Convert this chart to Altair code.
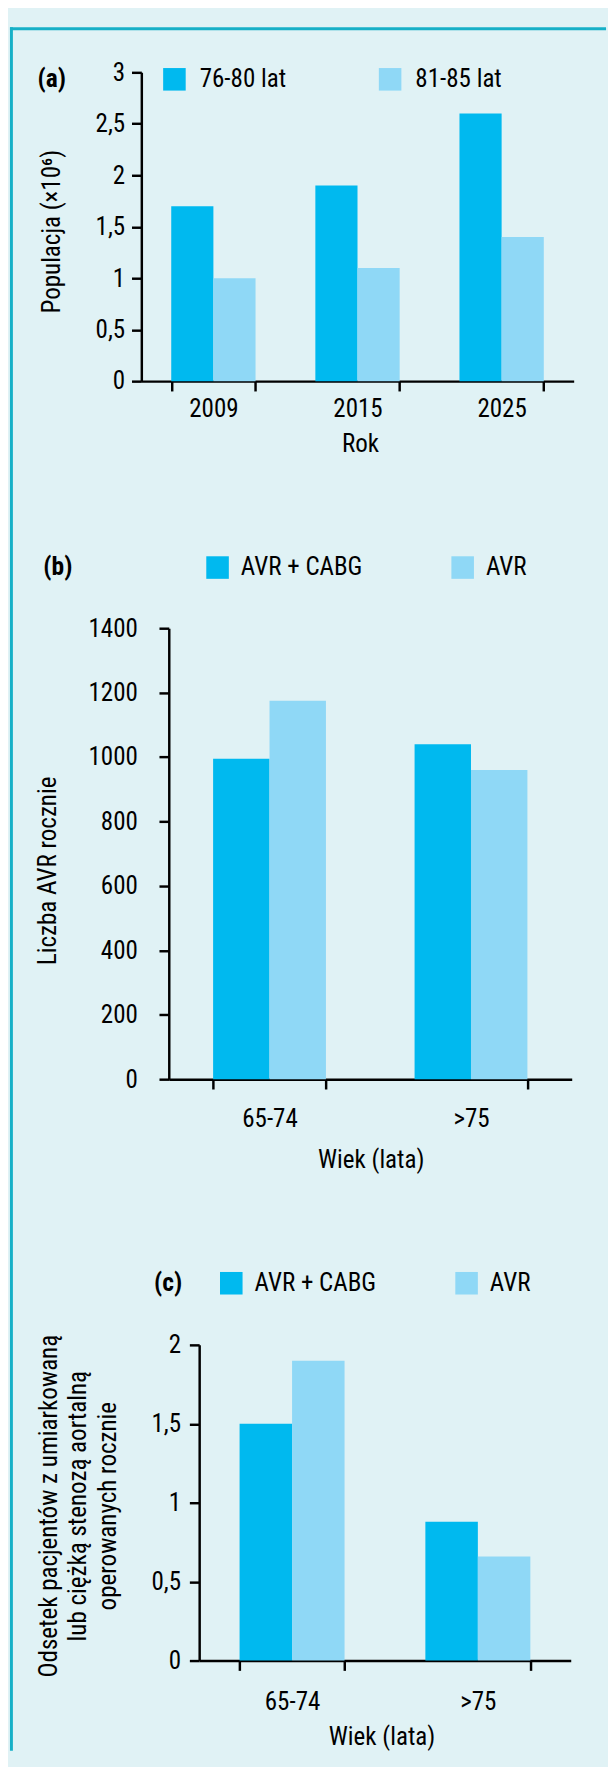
import altair as alt
import pandas as pd

FONT = "Liberation Sans Narrow, Roboto Condensed, Noto Sans Condensed, DejaVu Sans Condensed, sans-serif"
FS = 25.5
DARK = "#00B9EF"
LIGHT = "#8FD8F6"
BG = "#E0F2F5"
BORDER = "#17B0C7"

# ---- data ----
years = ["2009", "2015", "2025"]
series_a = ["76-80 lat", "81-85 lat"]
pop_76_80 = [1.7, 1.9, 2.6]
pop_81_85 = [1.0, 1.1, 1.4]

age_groups = ["65-74", ">75"]
series_bc = ["AVR + CABG", "AVR"]
count_avr_cabg = [995, 1040]
count_avr = [1175, 960]
pct_avr_cabg = [1.5, 0.88]
pct_avr = [1.9, 0.66]

ticks_a = [0, 0.5, 1, 1.5, 2, 2.5, 3]
ticks_b = [0, 200, 400, 600, 800, 1000, 1200, 1400]
ticks_c = [0, 0.5, 1, 1.5, 2]

df_a = pd.DataFrame({
    "Rok": years * 2,
    "SeriaA": [series_a[0]] * 3 + [series_a[1]] * 3,
    "Populacja": pop_76_80 + pop_81_85,
})
df_b = pd.DataFrame({
    "WiekB": age_groups * 2,
    "SeriaB": [series_bc[0]] * 2 + [series_bc[1]] * 2,
    "Liczba": count_avr_cabg + count_avr,
})
df_c = pd.DataFrame({
    "WiekC": age_groups * 2,
    "SeriaC": [series_bc[0]] * 2 + [series_bc[1]] * 2,
    "Odsetek": pct_avr_cabg + pct_avr,
})

COMMA = "replace(datum.label, '.', ',')"
W = 441
H = 1620


def legend(title, lx, ly, tpad, cpad, loff):
    return alt.Legend(
        title=title, titleOrient="left", titlePadding=tpad,
        orient="none", legendX=lx, legendY=ly, direction="horizontal",
        columnPadding=cpad, symbolType="square", symbolSize=529,
        symbolStrokeWidth=0, symbolOpacity=1, labelOffset=loff,
        titleFont=FONT, titleFontSize=26, titleFontWeight="bold",
        titleColor="black", labelFont=FONT, labelFontSize=FS,
        labelColor="black", padding=0, labelLimit=300,
    )


# ---- panel (a) ----
bars_a = alt.Chart(df_a).mark_bar().encode(
    x=alt.X("Rok:N", sort=years,
            scale=alt.Scale(range=[0, 441], paddingInner=0.415, paddingOuter=0.2075),
            axis=alt.Axis(orient="bottom", offset=-(H - 315), title="Rok",
                          tickBand="extent", labelAngle=0,
                          labelPadding=18, labelBaseline="middle",
                          titleX=223, titleY=64, titleBaseline="middle")),
    xOffset=alt.XOffset("SeriaA:N", sort=series_a,
                        scale=alt.Scale(paddingInner=0, paddingOuter=0)),
    y=alt.Y("Populacja:Q", scale=alt.Scale(domain=[0, 3], nice=False, range=[315, 0]),
            axis=alt.Axis(orient="left", values=ticks_a, format=".1~f", labelExpr=COMMA,
                          title="Populacja (×10⁶)", titleX=-91, titleY=162,
                          titleBaseline="middle", labelPadding=7)),
    color=alt.Color("SeriaA:N", sort=series_a,
                    scale=alt.Scale(domain=series_a, range=[DARK, LIGHT]),
                    legend=legend("(a)", -106, -6, 97, 93, 13)),
)

# ---- panel (b) ----
bars_b = alt.Chart(df_b).mark_bar().encode(
    x=alt.X("WiekB:N", sort=age_groups,
            scale=alt.Scale(range=[28, 439], paddingInner=0.44, paddingOuter=0.22),
            axis=alt.Axis(orient="bottom", offset=-(H - 1027), title="Wiek (lata)",
                          tickBand="extent", labelAngle=0,
                          labelPadding=30, labelBaseline="middle",
                          titleX=234, titleY=82, titleBaseline="middle")),
    xOffset=alt.XOffset("SeriaB:N", sort=series_bc,
                        scale=alt.Scale(paddingInner=0, paddingOuter=0)),
    y=alt.Y("Liczba:Q", scale=alt.Scale(domain=[0, 1400], nice=False, range=[1027, 567]),
            axis=alt.Axis(orient="left", values=ticks_b, format="d", offset=-28,
                          title="Liczba AVR rocznie", titleX=-124, titleY=814,
                          titleBaseline="middle", labelPadding=22)),
    color=alt.Color("SeriaB:N", sort=series_bc,
                    scale=alt.Scale(domain=series_bc, range=[DARK, LIGHT]),
                    legend=legend("(b)", -100, 492, 135, 89, 11)),
)

# ---- panel (c) ----
bars_c = alt.Chart(df_c).mark_bar().encode(
    x=alt.X("WiekC:N", sort=age_groups,
            scale=alt.Scale(range=[59, 438], paddingInner=0.435, paddingOuter=0.2175),
            axis=alt.Axis(orient="bottom", title="Wiek (lata)", tickBand="extent",
                          labelAngle=0, labelPadding=32, labelBaseline="middle",
                          titleX=245, titleY=78, titleBaseline="middle")),
    xOffset=alt.XOffset("SeriaC:N", sort=series_bc,
                        scale=alt.Scale(paddingInner=0, paddingOuter=0)),
    y=alt.Y("Odsetek:Q", scale=alt.Scale(domain=[0, 2], nice=False, range=[1620, 1298]),
            axis=alt.Axis(orient="left", values=ticks_c, format=".1~f", labelExpr=COMMA,
                          offset=-59,
                          title=["Odsetek pacjentów z umiarkowaną",
                                 "lub ciężką stenozą aortalną",
                                 "operowanych rocznie"],
                          titleX=-154, titleY=1462, titleLineHeight=30.5,
                          titleBaseline="middle", labelPadding=9)),
    color=alt.Color("SeriaC:N", sort=series_bc,
                    scale=alt.Scale(domain=series_bc, range=[DARK, LIGHT]),
                    legend=legend("(c)", 13, 1222, 37, 79, 11)),
)

# ---- frame lines ----
border_df = pd.DataFrame({"k": [0]})
top_border = alt.Chart(border_df).mark_rule(color=BORDER, strokeWidth=3).encode(
    x=alt.value(-134), x2=alt.value(474), y=alt.value(-44.5))
left_border = alt.Chart(border_df).mark_rule(color=BORDER, strokeWidth=3).encode(
    x=alt.value(-132.5), y=alt.value(-46), y2=alt.value(1712))

chart = alt.layer(top_border, left_border, bars_a, bars_b, bars_c).resolve_scale(
    x="independent", y="independent", color="independent", xOffset="independent"
).resolve_axis(x="independent", y="independent").resolve_legend(
    color="independent"
).properties(
    width=W, height=H, padding=0, background=BG
).configure_axis(
    domainColor="black", domainWidth=2.5, tickColor="black", tickWidth=2.5, tickSize=10,
    labelFont=FONT, labelFontSize=FS, labelColor="black",
    titleFont=FONT, titleFontSize=FS, titleFontWeight="normal", titleColor="black",
    grid=False,
).configure_view(strokeWidth=0)

chart.save("out.html", embed_options={"renderer": "svg", "actions": False})
